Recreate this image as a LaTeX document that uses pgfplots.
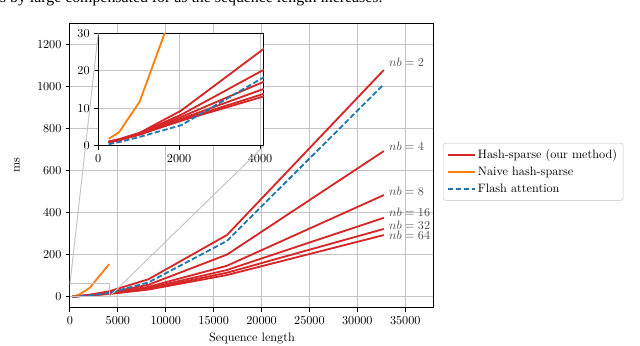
\documentclass[border=0pt]{standalone}
\usepackage{fontspec}
\newfontfamily\paperfont{Liberation Serif}
\usepackage{pgfplots}
\usepackage{pgfplotstable}
\pgfplotsset{compat=1.18}

\definecolor{mplred}{HTML}{D62728}
\definecolor{mplorange}{HTML}{FF7F0E}
\definecolor{mplblue}{HTML}{1F77B4}
\definecolor{gridgray}{HTML}{C4C4C4}

% runtime in ms against sequence length
\pgfplotstableread{
n      nb2   nb4   nb8   nb16  nb32  nb64  flash naive
256    1.2   1.1   1.0   1.0   0.9   0.9   0.45  1.9
512    1.8   1.7   1.6   1.6   1.5   1.5   1.0   3.6
1024   3.5   3.4   3.3   3.2   3.1   3.0   2.4   11.8
2048   9.4   8.3   7.7   7.2   6.9   6.7   5.5   42
4096   25.9  20.3  17.1  15.2  13.9  13.2  18.3  155
8192   83    57    47    41    37    34    68    nan
16384  293   200   147   127   114   103   265   nan
32768  1077  692   483   375   322   293   1009  nan
}\runtimes

\pgfplotsset{
  mpl/.style={
    scale only axis,
    scaled ticks=false,
    tick align=outside,
    xtick pos=lower, ytick pos=left,
    major tick length=3.5pt,
    tick style={black, line width=0.8pt},
    axis line style={black, line width=0.8pt},
    grid=major,
    grid style={gridgray, line width=0.8pt},
    /pgf/number format/set thousands separator={},
  },
  hash/.style={mplred, line width=1.5pt},
  naive/.style={mplorange, line width=1.5pt},
  flash/.style={mplblue, line width=1.5pt, dash pattern=on 4.5pt off 2pt},
}

\begin{document}
\begin{tikzpicture}
\useasboundingbox (-57.4pt,-31.2pt) rectangle (467.6pt,252.4pt);

\node[anchor=base east, inner sep=0pt, font=\paperfont\fontsize{13}{15}\selectfont]
  at (256.6pt,250.2pt) {is by large compensated for as the sequence length increases.};

\begin{axis}[mpl, name=main, at={(0,0)}, anchor=south west,
  width=298.6pt, height=233.5pt,
  xmin=0, xmax=38000, ymin=-52, ymax=1300,
  xtick={0,5000,...,35000}, ytick={0,200,...,1200},
  xlabel={Sequence length}, ylabel={ms},
  xlabel style={at={(axis description cs:0.5,-0.1066)}, anchor=center},
  ylabel style={at={(axis description cs:-0.1457,0.5)}, anchor=center},
  legend style={at={(axis description cs:1.0248,0.5786)}, anchor=north west,
    draw=gridgray, rounded corners=2pt, font=\normalsize,
    row sep=1.5pt, inner xsep=3pt, inner ysep=3pt},
  legend cell align=left,
  legend image code/.code={\draw[#1] (0pt,0pt) -- (22pt,0pt);},
]
\addplot[hash] table[x=n, y=nb2] {\runtimes};
\addlegendentry{Hash-sparse (our method)}
\addplot[hash, forget plot] table[x=n, y=nb4] {\runtimes};
\addplot[hash, forget plot] table[x=n, y=nb8] {\runtimes};
\addplot[hash, forget plot] table[x=n, y=nb16] {\runtimes};
\addplot[hash, forget plot] table[x=n, y=nb32] {\runtimes};
\addplot[hash, forget plot] table[x=n, y=nb64] {\runtimes};
\addplot[naive] table[x=n, y=naive] {\runtimes};
\addlegendentry{Naive hash-sparse}
\addplot[flash] table[x=n, y=flash] {\runtimes};
\addlegendentry{Flash attention}

\draw[gridgray, line width=0.8pt] (axis cs:0,0) rectangle (axis cs:4096,62);
\coordinate (rectTL) at (axis cs:0,62);
\coordinate (rectBR) at (axis cs:4096,0);

\begin{scope}[every node/.style={anchor=west, inner sep=0pt, text=black!70}]
\node at (axis cs:33300,1113) {$nb=2$};
\node at (axis cs:33300,716) {$nb=4$};
\node at (axis cs:33300,499) {$nb=8$};
\node at (axis cs:33300,399) {$nb=16$};
\node at (axis cs:33300,341) {$nb=32$};
\node at (axis cs:33300,290) {$nb=64$};
\end{scope}
\end{axis}

\begin{axis}[mpl, name=inset, at={(23.2pt,132.7pt)}, anchor=south west,
  width=135.9pt, height=92.4pt,
  xmin=0, xmax=4096, ymin=0, ymax=30,
  xtick={0,2000,4000}, ytick={0,10,20,30},
  axis background/.style={fill=white},
]
\addplot[hash] table[x=n, y=nb2] {\runtimes};
\addplot[hash] table[x=n, y=nb4] {\runtimes};
\addplot[hash] table[x=n, y=nb8] {\runtimes};
\addplot[hash] table[x=n, y=nb16] {\runtimes};
\addplot[hash] table[x=n, y=nb32] {\runtimes};
\addplot[hash] table[x=n, y=nb64] {\runtimes};
\addplot[naive] table[x=n, y=naive] {\runtimes};
\addplot[flash] table[x=n, y=flash] {\runtimes};
\end{axis}

\draw[gridgray, line width=0.8pt] (rectTL) -- (inset.north west);
\draw[gridgray, line width=0.8pt] (rectBR) -- (inset.south east);
\end{tikzpicture}
\end{document}
